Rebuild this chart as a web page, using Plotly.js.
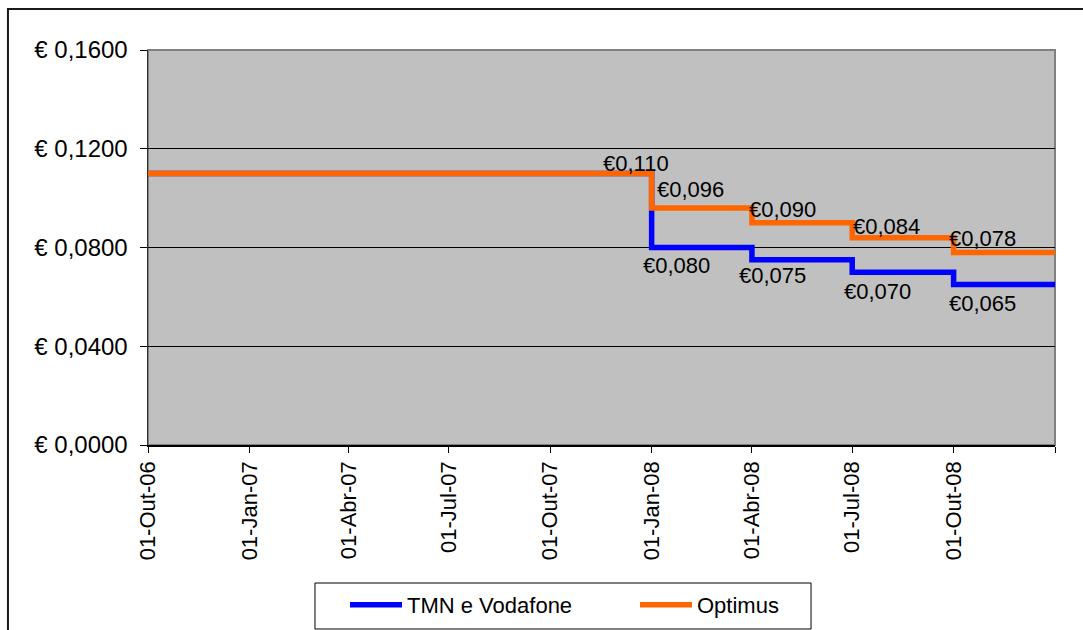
<!DOCTYPE html>
<html><head><meta charset="utf-8">
<script src="https://cdn.plot.ly/plotly-3.0.1.min.js"></script>
<style>html,body{margin:0;padding:0;background:#fff}#chart{width:1083px;height:630px}</style>
</head><body><div id="chart"></div>
<script>
// ---- data ----
const stepDates = ['2006-10-01','2008-01-01','2008-04-01','2008-07-01','2008-10-01','2009-01-01'];
const tmnValues = [0.110, 0.080, 0.075, 0.070, 0.065, 0.065];
const optimusValues = [0.110, 0.096, 0.090, 0.084, 0.078, 0.078];
const seriesNames = ['TMN e Vodafone', 'Optimus'];
const tickDates = ['2006-10-01','2007-01-01','2007-04-01','2007-07-01','2007-10-01','2008-01-01','2008-04-01','2008-07-01','2008-10-01','2009-01-01'];
const tickLabels = ['01-Out-06','01-Jan-07','01-Abr-07','01-Jul-07','01-Out-07','01-Jan-08','01-Abr-08','01-Jul-08','01-Out-08',''];
const yTicks = [0, 0.04, 0.08, 0.12, 0.16];
const optimusLabelDates = ['2008-01-01','2008-01-01','2008-04-01','2008-07-01','2008-10-01'];
const optimusLabelValues = [0.110, 0.096, 0.090, 0.084, 0.078];
const tmnLabelDates = ['2008-01-01','2008-04-01','2008-07-01','2008-10-01'];
const tmnLabelValues = [0.080, 0.075, 0.070, 0.065];

// ---- style ----
const FONT = 'Liberation Sans, Arial, sans-serif';
const optimusOffsets = [[-16,10],[39,19],[31,13],[34,11],[29,14]];
const tmnOffsets = [[25,-18],[21,-16],[25,-19],[29,-19]];
const fmtLabel = v => '\u20ac' + v.toFixed(3).replace('.', ',');
const fmtTick = v => '\u20ac ' + v.toFixed(4).replace('.', ',');

const traces = [
  {x: stepDates, y: tmnValues, name: seriesNames[0], type: 'scatter', mode: 'lines',
   legendwidth: 223,
   line: {color: '#0000FF', width: 5.5, shape: 'hv'}},
  {x: stepDates, y: optimusValues, name: seriesNames[1], type: 'scatter', mode: 'lines',
   line: {color: '#FF6600', width: 5.5, shape: 'hv'}}
];

const annotations = [];
optimusLabelDates.forEach((d, i) => annotations.push({
  x: d, y: optimusLabelValues[i], xref: 'x', yref: 'y', text: fmtLabel(optimusLabelValues[i]),
  showarrow: false, xanchor: 'center', yanchor: 'middle',
  xshift: optimusOffsets[i][0], yshift: optimusOffsets[i][1],
  font: {family: FONT, size: 22, color: '#000'}
}));
tmnLabelDates.forEach((d, i) => annotations.push({
  x: d, y: tmnLabelValues[i], xref: 'x', yref: 'y', text: fmtLabel(tmnLabelValues[i]),
  showarrow: false, xanchor: 'center', yanchor: 'middle',
  xshift: tmnOffsets[i][0], yshift: tmnOffsets[i][1],
  font: {family: FONT, size: 22, color: '#000'}
}));

const layout = {
  width: 1083, height: 630,
  margin: {l: 148, r: 28, t: 50, b: 185, pad: 0, autoexpand: false},
  paper_bgcolor: '#FFFFFF', plot_bgcolor: '#C0C0C0',
  font: {family: FONT, size: 22, color: '#000'},
  showlegend: true,
  hovermode: false,
  xaxis: {
    type: 'date', range: ['2006-10-01', '2009-01-01'],
    tickmode: 'array', tickvals: tickDates, ticktext: tickLabels,
    tickangle: -90, ticks: 'outside', ticklen: 6, tickcolor: '#000', tickwidth: 1,
    ticklabelstandoff: 0,
    showgrid: false, zeroline: false, showline: true, linecolor: '#000', linewidth: 1.5,
    automargin: false,
    tickfont: {family: FONT, size: 22, color: '#000'}
  },
  yaxis: {
    range: [0, 0.16], tickmode: 'array', tickvals: yTicks, ticktext: yTicks.map(fmtTick),
    ticks: 'outside', ticklen: 7, tickcolor: '#000', tickwidth: 1,
    showgrid: true, gridcolor: '#000', gridwidth: 1, zeroline: false,
    showline: true, linecolor: '#333', linewidth: 1.5,
    ticklabelstandoff: 7, automargin: false,
    tickfont: {family: FONT, size: 24, color: '#000'}
  },
  legend: {
    orientation: 'h', x: 0.2172, y: -0.3519, xanchor: 'left', yanchor: 'top',
    bgcolor: 'rgba(0,0,0,0)', borderwidth: 0, itemwidth: 52,
    font: {family: FONT, size: 22, color: '#000'}
  },
  shapes: [
    {type: 'rect', xref: 'paper', yref: 'paper', x0: 0, x1: 1, y0: 0, y1: 1,
     line: {color: '#808080', width: 2}, layer: 'between'},
    {type: 'rect', xref: 'paper', yref: 'paper', x0: -0.1544, x1: 1.05, y0: -0.50, y1: 1.1038,
     line: {color: '#1a1a1a', width: 2}, layer: 'below'},
    {type: 'rect', xref: 'paper', yref: 'paper', x0: 0.1841, x1: 0.7310, y0: -0.4658, y1: -0.3494,
     line: {color: '#000', width: 1}, fillcolor: '#FFFFFF', layer: 'below'}
  ],
  annotations: annotations
};

Plotly.newPlot('chart', traces, layout, {staticPlot: true, displayModeBar: false});
</script>
</body></html>
